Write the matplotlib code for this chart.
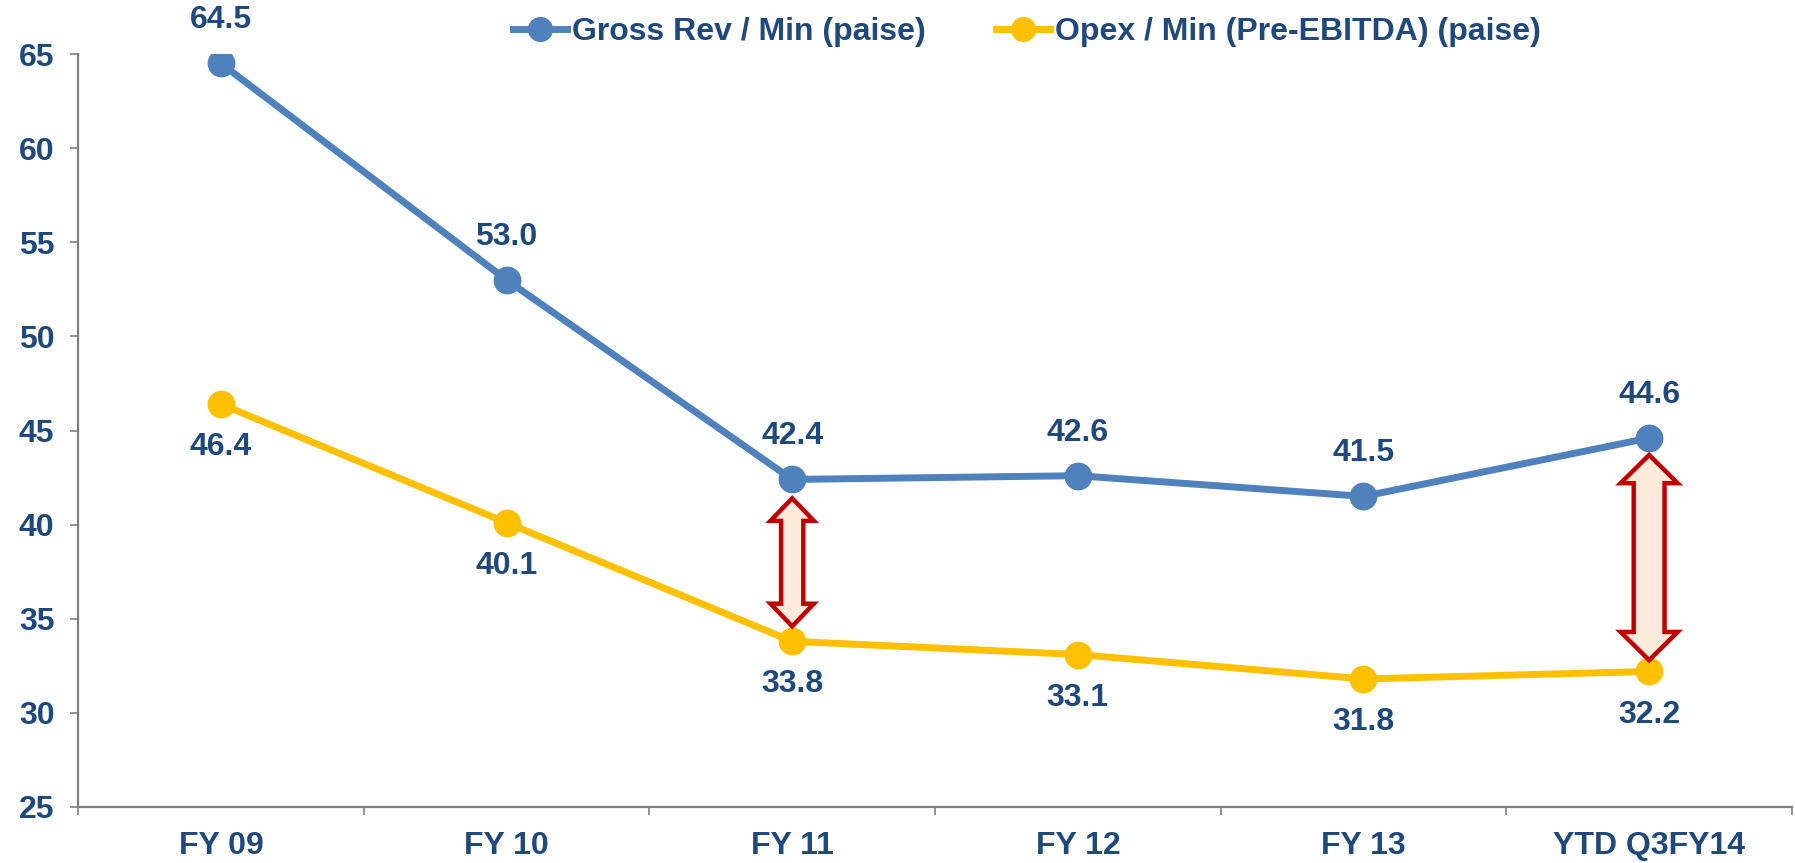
import matplotlib.pyplot as plt
from matplotlib import patches
from matplotlib.ticker import FixedLocator

categories = ["FY 09", "FY 10", "FY 11", "FY 12", "FY 13", "YTD Q3FY14"]
gross_rev = [64.5, 53.0, 42.4, 42.6, 41.5, 44.6]
opex = [46.4, 40.1, 33.8, 33.1, 31.8, 32.2]
series_names = ["Gross Rev / Min (paise)", "Opex / Min (Pre-EBITDA) (paise)"]
y_ticks = [25, 30, 35, 40, 45, 50, 55, 60, 65]

# spread arrows: (category index, bottom, top)
gap_arrows = [(2, 34.6, 41.4), (5, 32.8, 43.7)]
# arrow shape: (half body width, half head width, head length)
arrow_shapes = [(0.039, 0.076, 1.2), (0.054, 0.1, 1.5)]

TEXT = "#1F497D"
BLUE = "#4F81BD"
GOLD = "#FFC000"
GRID = "#808080"
FS = 23

plt.rcParams["font.family"] = ["Liberation Sans Narrow", "Liberation Sans", "DejaVu Sans"]
plt.rcParams["font.weight"] = "bold"

fig = plt.figure(figsize=(17.95, 8.63), dpi=100)
ax = fig.add_axes([0.0435, 0.0649, 0.9548, 0.8725])

x = list(range(len(categories)))

for vals, color, name, off in [
    (gross_rev, BLUE, series_names[0], 31),
    (opex, GOLD, series_names[1], -31),
]:
    ax.plot(x, vals, color=color, lw=5, marker="o", markersize=19,
            label=name, zorder=3)
    for xi, v in zip(x, vals):
        ax.annotate(f"{v:.1f}", (xi, v), xytext=(0, off), textcoords="offset points",
                    ha="center", va="center", fontsize=FS, color=TEXT,
                    fontweight="bold")

# double headed block arrows showing the margin
for (ci, lo, hi), (hb, hh, hl) in zip(gap_arrows, arrow_shapes):
    pts = [
        (ci, hi),
        (ci + hh, hi - hl),
        (ci + hb, hi - hl),
        (ci + hb, lo + hl),
        (ci + hh, lo + hl),
        (ci, lo),
        (ci - hh, lo + hl),
        (ci - hb, lo + hl),
        (ci - hb, hi - hl),
        (ci - hh, hi - hl),
    ]
    ax.add_patch(patches.Polygon(pts, closed=True, facecolor="#FDEADA",
                                 edgecolor="#C00000", lw=3.2, zorder=4))

ax.set_xlim(-0.5, len(categories) - 0.5)
ax.set_ylim(25, 65)
ax.set_yticks(y_ticks)
ax.xaxis.set_major_locator(FixedLocator([i - 0.5 for i in range(len(categories) + 1)]))
ax.xaxis.set_minor_locator(FixedLocator(x))
ax.set_xticklabels([], minor=False)
ax.set_xticklabels(categories, minor=True)
ax.tick_params(axis="x", which="major", length=6, width=1.2, color=GRID, direction="out")
ax.tick_params(axis="x", which="minor", length=0, pad=17, labelsize=FS, labelcolor=TEXT)
ax.tick_params(axis="y", length=6, width=1.2, color=GRID, direction="out",
               pad=11, labelsize=FS, labelcolor=TEXT)
for lab in ax.get_xticklabels(minor=True) + ax.get_yticklabels():
    lab.set_fontweight("bold")

for side in ("top", "right"):
    ax.spines[side].set_visible(False)
for side in ("left", "bottom"):
    ax.spines[side].set_color(GRID)
    ax.spines[side].set_linewidth(1.6)

leg = fig.legend(loc="center", bbox_to_anchor=(0.572, 0.963), ncol=2, frameon=False,
                 fontsize=FS, numpoints=1, handlelength=1.7, handletextpad=0.15,
                 columnspacing=2.2, markerscale=0.9)
for t in leg.get_texts():
    t.set_color(TEXT)
    t.set_fontweight("bold")

fig.savefig("out.png", dpi=100)
